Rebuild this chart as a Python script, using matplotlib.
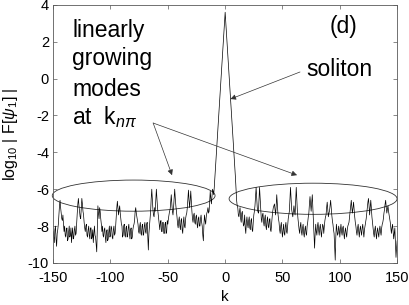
import numpy as np
import matplotlib
matplotlib.use("Agg")
from matplotlib import pyplot as plt
from matplotlib.patches import Ellipse

plt.rcParams['font.family'] = ['Liberation Sans', 'DejaVu Sans']
plt.rcParams['mathtext.fontset'] = 'custom'
plt.rcParams['mathtext.rm'] = 'Liberation Sans'
plt.rcParams['mathtext.it'] = 'Liberation Sans:italic'
plt.rcParams['axes.unicode_minus'] = False

# wavenumber grid, two samples per unit of k
k = np.arange(-150, 150.5, 0.5)

# log10 |F[psi_1]| (each row covers 10 units of k)
log_F = [
    # -150 ... -140.5
    -8.3, -8.6, -8.9, -8.2, -8.0, -8.7, -9.1, -8.4, -8.2, -7.9,
    -7.4, -6.9, -6.6, -7.0, -7.3, -7.6, -7.7, -7.4, -7.9, -8.3,
    # -140
    -8.0, -8.5, -8.6, -8.2, -8.1, -8.8, -8.7, -8.3, -8.0, -8.6,
    -8.5, -8.1, -8.9, -8.4, -8.1, -8.7, -8.6, -8.2, -8.0, -8.5,
    # -130
    -8.4, -7.8, -7.3, -6.8, -6.5, -6.9, -7.2, -7.5, -7.6, -7.0,
    -6.5, -6.8, -7.2, -7.4, -7.8, -8.1, -8.3, -8.0, -7.9, -8.5,
    # -120
    -8.6, -8.2, -8.0, -8.5, -8.7, -8.1, -8.1, -8.7, -8.6, -8.2,
    -8.9, -8.4, -8.0, -8.5, -8.6, -9.0, -9.4, -8.2, -6.9, -7.3,
    # -110
    -7.6, -7.0, -7.2, -7.6, -7.9, -8.3, -8.0, -8.5, -8.6, -8.2,
    -8.1, -8.6, -8.9, -8.3, -8.2, -8.8, -8.7, -8.3, -8.0, -8.6,
    # -100
    -8.5, -8.0, -8.1, -8.6, -8.7, -8.2, -8.0, -8.5, -8.4, -8.0,
    -7.5, -7.0, -6.65, -7.0, -7.4, -7.1, -6.9, -7.3, -7.6, -7.9,
    # -90
    -8.0, -8.6, -8.5, -8.0, -7.9, -8.5, -8.6, -8.1, -8.0, -8.6,
    -8.5, -8.1, -7.9, -8.4, -8.7, -8.2, -8.1, -8.7, -8.6, -8.2,
    # -80
    -8.0, -7.9, -7.7, -7.2, -7.0, -7.3, -7.5, -7.7, -7.9, -8.3,
    -8.4, -8.0, -7.8, -8.4, -8.5, -8.0, -7.9, -8.5, -8.4, -8.0,
    # -70
    -7.8, -8.3, -8.4, -7.9, -7.8, -8.5, -9.3, -8.4, -8.0, -7.6,
    -7.2, -6.5, -6.0, -6.6, -7.1, -7.4, -7.5, -7.0, -7.2, -6.6,
    # -60
    -6.0, -6.5, -7.0, -7.3, -7.6, -7.9, -8.2, -7.8, -7.7, -8.3,
    -8.3, -7.8, -7.8, -8.4, -8.4, -7.9, -7.8, -8.4, -8.3, -7.7,
    # -50
    -7.9, -7.6, -7.4, -7.2, -7.1, -6.7, -6.3, -6.8, -7.2, -7.4,
    -7.0, -6.5, -6.0, -6.5, -6.9, -7.2, -7.5, -7.9, -8.1, -7.7,
    # -40
    -7.5, -8.0, -8.2, -7.7, -7.6, -8.2, -8.4, -7.8, -7.5, -8.0,
    -8.1, -7.6, -7.4, -7.3, -7.0, -6.5, -6.05, -6.6, -7.0, -6.6,
    # -30
    -6.1, -6.7, -7.2, -7.6, -7.8, -7.4, -7.3, -7.8, -7.9, -7.5,
    -7.4, -7.9, -8.1, -7.6, -7.5, -8.0, -8.0, -7.6, -7.4, -7.8,
    # -20
    -8.0, -8.5, -8.8, -7.9, -7.4, -7.7, -7.9, -7.5, -7.3, -7.2,
    -7.0, -7.3, -7.2, -6.6, -6.1, -6.5, -6.8, -6.4, -6.0, -6.1,
    # -10 (soliton, left flank)
    -6.3, -5.9, -5.4, -4.9, -4.4, -3.9, -3.4, -2.9, -2.4, -1.9,
    -1.4, -0.9, -0.4, 0.1, 0.6, 1.1, 1.6, 2.1, 2.6, 3.1,
    # 0
    3.6,
    # 0.5 ... 10 (soliton, right flank)
    3.1, 2.6, 2.1, 1.6, 1.1, 0.6, 0.1, -0.4, -0.9, -1.4,
    -1.9, -2.4, -2.9, -3.4, -3.9, -4.4, -4.9, -5.4, -6.0, -6.6,
    # 10.5
    -6.9, -7.0, -7.4, -7.5, -7.2, -7.0, -7.6, -7.8, -7.3, -7.2,
    -7.7, -8.0, -7.9, -7.4, -8.1, -8.4, -7.8, -7.5, -7.9, -8.1,
    # 20.5
    -7.7, -7.5, -8.1, -8.2, -7.7, -7.6, -8.2, -8.3, -7.8, -7.4,
    -7.2, -6.9, -6.4, -5.9, -6.5, -7.0, -7.2, -7.3, -6.6, -5.9,
    # 30.5
    -6.5, -7.1, -7.6, -7.8, -7.4, -7.3, -7.8, -8.0, -7.6, -7.4,
    -8.0, -8.2, -7.7, -7.5, -8.0, -8.1, -7.7, -7.6, -8.2, -8.3,
    # 40.5
    -7.9, -7.5, -7.2, -7.0, -6.9, -6.8, -7.1, -7.4, -6.9, -6.3,
    -6.8, -7.3, -7.6, -7.8, -8.2, -8.4, -8.0, -7.8, -8.3, -8.6,
    # 50.5
    -8.2, -7.9, -8.4, -8.5, -8.0, -7.8, -8.3, -8.4, -8.0, -7.6,
    -7.4, -7.2, -6.5, -5.9, -6.5, -7.1, -7.3, -7.5, -7.2, -6.9,
    # 60.5
    -7.2, -7.4, -6.6, -5.9, -6.6, -7.2, -7.6, -7.9, -8.2, -8.4,
    -8.0, -7.8, -8.3, -8.5, -8.1, -7.9, -8.4, -8.6, -8.2, -8.0,
    # 70.5
    -8.4, -8.5, -8.0, -7.8, -7.5, -7.3, -6.8, -6.4, -6.8, -7.2,
    -6.7, -6.3, -7.0, -7.6, -8.4, -9.2, -8.4, -7.9, -8.3, -8.5,
    # 80.5
    -8.0, -7.8, -8.2, -8.5, -8.1, -7.9, -8.3, -8.6, -8.2, -7.9,
    -8.0, -8.4, -8.0, -7.7, -7.5, -7.4, -7.0, -6.7, -7.1, -7.5,
    # 90.5
    -7.3, -7.2, -6.9, -6.6, -7.0, -7.4, -7.7, -7.9, -8.2, -8.4,
    -9.1, -9.85, -8.6, -7.9, -8.2, -8.5, -8.4, -8.0, -8.2, -8.6,
    # 100.5
    -8.2, -7.9, -8.3, -8.5, -8.1, -8.0, -8.4, -8.7, -8.3, -8.1,
    -8.4, -8.6, -8.2, -8.0, -7.9, -7.8, -7.5, -7.2, -6.9, -6.6,
    # 110.5
    -7.0, -7.3, -7.0, -6.7, -7.1, -7.5, -7.8, -8.0, -8.3, -8.5,
    -8.1, -7.9, -8.3, -8.6, -8.2, -8.0, -8.3, -8.5, -8.1, -7.9,
    # 120.5
    -8.3, -8.6, -8.2, -8.0, -7.8, -7.6, -7.3, -7.0, -6.7, -6.5,
    -6.9, -7.4, -7.0, -6.6, -7.0, -7.5, -7.8, -8.1, -8.4, -8.6,
    # 130.5
    -8.2, -8.0, -8.4, -8.7, -8.3, -8.1, -8.4, -8.6, -8.2, -8.0,
    -8.3, -8.5, -8.1, -7.9, -7.8, -7.6, -7.3, -7.1, -6.8, -6.6,
    # 140.5
    -7.0, -7.3, -7.1, -6.9, -7.2, -7.4, -7.6, -7.8, -8.1, -8.4,
    -8.1, -7.9, -8.3, -8.7, -8.4, -8.1, -8.9, -9.7, -9.2, -8.8,
]

x_ticks = [-150, -100, -50, 0, 50, 100, 150]
y_ticks = [-10, -8, -6, -4, -2, 0, 2, 4]

fig = plt.figure(figsize=(4.09, 3.05), dpi=100)
ax = fig.add_axes([0.130, 0.138, 0.841, 0.846])

ax.plot(k, log_F, color='k', lw=0.5)

ax.set_xlim(-150, 150)
ax.set_ylim(-10, 4)
ax.set_xticks(x_ticks)
ax.set_yticks(y_ticks)
ax.tick_params(direction='in', length=3, width=0.5, color='0.35',
               top=True, right=True, labelsize=10.5)
ax.tick_params(axis='x', pad=6)
ax.tick_params(axis='y', pad=3)
for s in ax.spines.values():
    s.set_linewidth(0.6)
    s.set_color('0.35')

ax.set_xlabel('k', fontsize=11)
ax.set_ylabel(r'log$_{10}$ | F[$\psi_1$] |', fontsize=11.5)
ax.xaxis.set_label_coords(0.5, -0.105)
ax.yaxis.set_label_coords(-0.095, 0.5)

# ellipses around the linearly growing modes
ax.add_patch(Ellipse((-79.8, -6.35), 142, 1.69, fill=False, lw=0.6,
                     ec='0.2', clip_on=False))
ax.add_patch(Ellipse((76.7, -6.52), 146.5, 1.69, fill=False, lw=0.6,
                     ec='0.2', clip_on=False))

fs = 16.5
for txt, yb in zip(['linearly', 'growing', 'modes', r'at  k$_{n\pi}$'],
                   [2.26, 0.74, -0.95, -2.47]):
    ax.text(-133.4, yb, txt, fontsize=fs, va='baseline', ha='left')
ax.text(70.6, 0.14, 'soliton', fontsize=fs, va='baseline', ha='left')
ax.text(91.5, 2.48, '(d)', fontsize=fs, va='baseline', ha='left')

arrow = dict(arrowstyle='-|>', lw=0.5, color='0.2', mutation_scale=8,
             shrinkA=0, shrinkB=0)
ax.annotate('', xy=(-46.3, -5.24), xytext=(-62.8, -2.41), arrowprops=arrow)
ax.annotate('', xy=(62.7, -5.24), xytext=(-62.8, -2.41), arrowprops=arrow)
ax.annotate('', xy=(4.6, -1.11), xytext=(65.3, 0.36), arrowprops=arrow)

fig.savefig('out.png', dpi=100)
